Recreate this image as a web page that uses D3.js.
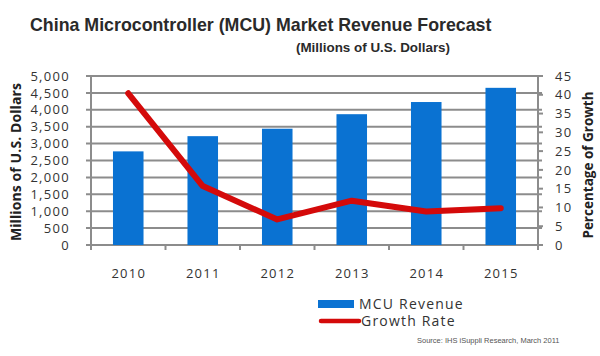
<!DOCTYPE html>
<html><head><meta charset="utf-8">
<script src="https://cdn.jsdelivr.net/npm/d3@7"></script>
<style>body{margin:0;background:#fff}svg{display:block}</style>
</head><body>
<svg id="c" width="600" height="356"></svg>
<script>
const years = ["2010","2011","2012","2013","2014","2015"];
const revenue = [2770, 3220, 3440, 3870, 4230, 4650];
const growth = [40.4, 15.7, 6.8, 11.8, 8.9, 9.8];
const leftTicks = [0,500,1000,1500,2000,2500,3000,3500,4000,4500,5000];
const rightTicks = [0,5,10,15,20,25,30,35,40,45];

const svg = d3.select("#c");
const L = 91, R = 538, T = 76, B = 245;
const x = d3.scaleBand().domain(years).range([L, R]).paddingInner(0.59).paddingOuter(0.295);
const xc = d3.scaleBand().domain(years).range([L, R]);
const yL = d3.scaleLinear().domain([0, 5000]).range([B, T]);
const yR = d3.scaleLinear().domain([0, 45]).range([B, T]);
const grid = "#8c8c8c";
const tickFont = "'Open Sans', Lato, sans-serif";

// gridlines
svg.append("g").selectAll("line").data(leftTicks).join("line")
  .attr("x1", L - 5).attr("x2", R + 4)
  .attr("y1", d => yL(d)).attr("y2", d => yL(d))
  .attr("stroke", grid).attr("stroke-width", 2);
// axes lines
svg.append("line").attr("x1", L).attr("x2", L).attr("y1", T).attr("y2", B + 5).attr("stroke", grid).attr("stroke-width", 2);
svg.append("line").attr("x1", R).attr("x2", R).attr("y1", T).attr("y2", B + 5).attr("stroke", grid).attr("stroke-width", 2);
// right ticks
svg.append("g").selectAll("line").data(rightTicks).join("line")
  .attr("x1", R).attr("x2", R + 5)
  .attr("y1", d => yR(d)).attr("y2", d => yR(d))
  .attr("stroke", grid).attr("stroke-width", 2);
// category ticks
svg.append("g").selectAll("line").data(years.slice(1)).join("line")
  .attr("x1", d => xc(d)).attr("x2", d => xc(d))
  .attr("y1", B).attr("y2", B + 5)
  .attr("stroke", grid).attr("stroke-width", 2);

// bars
svg.append("g").selectAll("rect").data(revenue).join("rect")
  .attr("x", (d, i) => x(years[i])).attr("width", x.bandwidth())
  .attr("y", d => yL(d)).attr("height", d => B - yL(d))
  .attr("fill", "#0a72d2");

// line
const line = d3.line().x((d, i) => xc(years[i]) + xc.bandwidth() / 2).y(d => yR(d));
svg.append("path").datum(growth).attr("d", line)
  .attr("fill", "none").attr("stroke", "#d40a0a").attr("stroke-width", 6)
  .attr("stroke-linejoin", "round").attr("stroke-linecap", "round");

// left labels
svg.append("g").selectAll("text").data(leftTicks).join("text")
  .attr("x", 70).attr("y", d => yL(d)).attr("dy", "0.36em")
  .attr("text-anchor", "end").attr("font-family", tickFont).attr("font-size", 13)
  .attr("letter-spacing", 1.3)
  .attr("fill", "#333").text(d => d3.format(",")(d));
// right labels
svg.append("g").selectAll("text").data(rightTicks).join("text")
  .attr("x", 555).attr("y", d => yR(d)).attr("dy", "0.36em")
  .attr("text-anchor", "start").attr("font-family", tickFont).attr("font-size", 13)
  .attr("letter-spacing", 1.3)
  .attr("fill", "#333").text(d => d);
// x labels
svg.append("g").selectAll("text").data(years).join("text")
  .attr("x", d => xc(d) + xc.bandwidth() / 2 + 0.6).attr("y", 278)
  .attr("text-anchor", "middle").attr("font-family", tickFont).attr("font-size", 13)
  .attr("letter-spacing", 1.3)
  .attr("fill", "#333").text(d => d);

// axis titles
svg.append("text").attr("transform", "translate(21,162) rotate(-90)")
  .attr("text-anchor", "middle").attr("font-family", tickFont).attr("font-weight", "bold")
  .attr("font-size", 14).attr("letter-spacing", 0.1).attr("fill", "#222").text("Millions of U.S. Dollars");
svg.append("text").attr("transform", "translate(593,165) rotate(-90)")
  .attr("text-anchor", "middle").attr("font-family", tickFont).attr("font-weight", "bold")
  .attr("font-size", 13.5).attr("fill", "#222").text("Percentage of Growth");

// titles
svg.append("text").attr("x", 30).attr("y", 31).attr("font-family", "Arial, 'Liberation Sans', sans-serif")
  .attr("font-weight", "bold").attr("font-size", 17.8).attr("fill", "#2a2a2a")
  .text("China Microcontroller (MCU) Market Revenue Forecast");
svg.append("text").attr("x", 296).attr("y", 52).attr("font-family", "Arial, 'Liberation Sans', sans-serif")
  .attr("font-weight", "bold").attr("font-size", 13.4).attr("fill", "#2a2a2a")
  .text("(Millions of U.S. Dollars)");

// legend
svg.append("rect").attr("x", 318).attr("y", 300).attr("width", 36).attr("height", 8).attr("fill", "#0a72d2");
svg.append("text").attr("x", 359).attr("y", 308.5).attr("font-family", tickFont).attr("font-size", 14)
  .attr("letter-spacing", 1.2).attr("fill", "#333").text("MCU Revenue");
svg.append("line").attr("x1", 321).attr("x2", 359).attr("y1", 321).attr("y2", 321)
  .attr("stroke", "#d40a0a").attr("stroke-width", 4.5).attr("stroke-linecap", "round");
svg.append("text").attr("x", 361).attr("y", 326).attr("font-family", tickFont).attr("font-size", 14)
  .attr("letter-spacing", 1.2).attr("fill", "#333").text("Growth Rate");

// source
svg.append("text").attr("x", 417).attr("y", 343).attr("font-family", "Arial, sans-serif").attr("font-size", 7.5)
  .attr("fill", "#555").text("Source: IHS iSuppli Research, March 2011");
</script>
</body></html>
